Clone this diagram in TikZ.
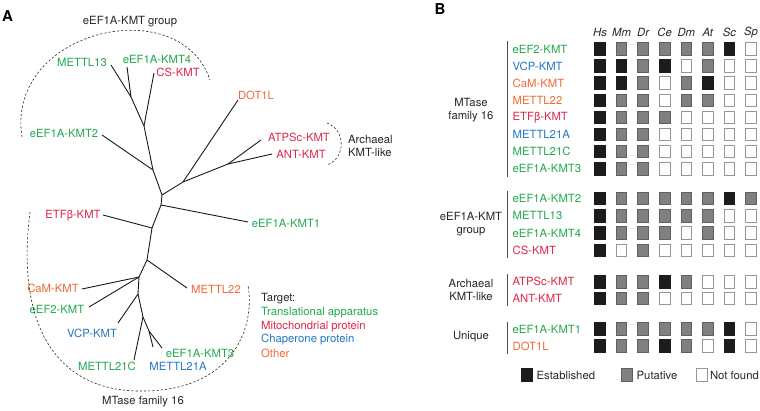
\documentclass[tikz,border=0pt]{standalone}
\usepackage{fontspec}
\setmainfont{TeX Gyre Heros}
\begin{document}
\begin{tikzpicture}[x=1pt,y=-1pt,
  every node/.style={font=\fontsize{11.3}{13}\selectfont, inner sep=0pt},
  tline/.style={line width=0.9pt, black!90},
  grp/.style={dashed, dash pattern=on 2.2pt off 2pt, line width=0.6pt, black!85},
  lab/.style={text=black!85},
  panel/.style={font=\fontsize{15}{16}\selectfont\bfseries},
  sqbox/.style={minimum width=10.6pt, minimum height=12.6pt, line width=0.9pt, inner sep=0pt},
  bar/.style={line width=0.7pt, black!70}]
\definecolor{tg}{RGB}{34,168,78}
\definecolor{tr}{RGB}{222,38,74}
\definecolor{tb}{RGB}{38,118,196}
\definecolor{to}{RGB}{242,104,52}
\definecolor{cE}{RGB}{28,28,28}
\definecolor{bE}{RGB}{28,28,28}
\definecolor{cP}{RGB}{128,128,128}
\definecolor{bP}{RGB}{95,95,95}
\definecolor{cN}{RGB}{255,255,255}
\definecolor{bN}{RGB}{150,150,150}
\useasboundingbox (0,0) rectangle (760,410);

% ---------- Panel A ----------
\node[panel] (A) at (7.5,16) {A};
\node[panel] (B) at (440,9) {B};

% tree coordinates
\coordinate (t13) at (111,65);
\coordinate (t4) at (127,67);
\coordinate (tcs) at (154,73);
\coordinate (n1) at (131,97);
\coordinate (n2) at (144,126);
\coordinate (t2) at (102,135);
\coordinate (n3) at (153,170);
\coordinate (n4) at (162,195);
\coordinate (r1) at (183,182);
\coordinate (tdot) at (238,100);
\coordinate (r2) at (228,164);
\coordinate (tatp) at (261,140);
\coordinate (tant) at (272,154);
\coordinate (n5) at (161,205);
\coordinate (tk1) at (248,222);
\coordinate (n6) at (152,228);
\coordinate (tetf) at (103,215);
\coordinate (n7) at (147,260);
\coordinate (t22) at (187,288);
\coordinate (n8) at (139,277);
\coordinate (tcam) at (82,289);
\coordinate (tef2) at (89,307);
\coordinate (n9) at (138,294);
\coordinate (tvcp) at (118,323);
\coordinate (n10) at (143,317);
\coordinate (t21c) at (134,360);
\coordinate (n11) at (149,331);
\coordinate (t21a) at (153,347);
\coordinate (tk3) at (162,348);

\draw[tline] (t13) -- (n1) -- (n2) -- (n3) -- (n4) -- (n5) -- (n6) -- (n7) -- (n8) -- (n9) -- (n10) -- (t21c);
\draw[tline] (t4) -- (n1);
\draw[tline] (tcs) -- (n2);
\draw[tline] (t2) -- (n3);
\draw[tline] (n4) -- (r1) -- (r2) -- (tatp);
\draw[tline] (r1) -- (tdot);
\draw[tline] (r2) -- (tant);
\draw[tline] (n5) -- (tk1);
\draw[tline] (tetf) -- (n6);
\draw[tline] (n7) -- (t22);
\draw[tline] (tcam) -- (n8);
\draw[tline] (tef2) -- (n8);
\draw[tline] (tvcp) -- (n9);
\draw[tline] (n10) -- (n11) -- (t21a);
\draw[tline] (n11) -- (tk3);

% tree labels
\node[text=tg] (aM13) at (82,62) {METTL13};
\node[text=tg] (aK4) at (157,59) {eEF1A-KMT4};
\node[text=tr] (aCS) at (178,72) {CS-KMT};
\node[text=to] (aDOT) at (256,95) {DOT1L};
\node[text=tg] (aK2) at (64,133) {eEF1A-KMT2};
\node[text=tr] (aATP) at (299,137) {ATPSc-KMT};
\node[text=tr] (aANT) at (301,154) {ANT-KMT};
\node[text=tr] (aETF) at (73,216) {ETFβ-KMT};
\node[text=tg] (aK1) at (286,223) {eEF1A-KMT1};
\node[text=to] (aCaM) at (53,288) {CaM-KMT};
\node[text=to] (aM22) at (216,289) {METTL22};
\node[text=tg] (aEF2) at (57,309) {eEF2-KMT};
\node[text=tb] (aVCP) at (92,333) {VCP-KMT};
\node[text=tg] (aK3) at (200,353) {eEF1A-KMT3};
\node[text=tg] (aM21C) at (107,366) {METTL21C};
\node[text=tb] (aM21A) at (178,366) {METTL21A};

% group outlines
\coordinate (g1a) at (22,137);
\coordinate (g1b) at (210,80);
\draw[grp] (g1a) .. controls (5,30) and (180,-10) .. (g1b);
\node[lab] (g1) at (130,22) {eEF1A-KMT group};
\coordinate (g2a) at (327,123);
\coordinate (g2b) at (327,165);
\draw[grp] (g2a) .. controls (346,130) and (346,158) .. (g2b);
\node[lab, align=left, anchor=west] (g2) at (348,145.5) {Archaeal\\KMT-like};
\coordinate (g3a) at (30,212);
\coordinate (g3m) at (140,391);
\coordinate (g3b) at (248,285);
\draw[grp] (g3a) .. controls (15,330) and (60,391) .. (g3m) .. controls (230,392) and (256,330) .. (g3b);
\node[lab] (g3) at (143,402) {MTase family 16};

% target legend
\node[lab, anchor=west] (tt) at (261,299) {Target:};
\node[text=tg, anchor=west] (t1) at (261,313) {Translational apparatus};
\node[text=tr, anchor=west] (tt2) at (261,326.5) {Mitochondrial protein};
\node[text=tb, anchor=west] (tt3) at (261,340) {Chaperone protein};
\node[text=to, anchor=west] (tt4) at (261,353.5) {Other};

% ---------- Panel B ----------
\foreach \h [count=\i] in {Hs,Mm,Dr,Ce,Dm,At,Sc,Sp}
  \node[font=\fontsize{11.3}{13}\selectfont\itshape, text=black!85] (h\i) at ({600+21.57*(\i-1)},32) {\h};

\foreach \nm/\cl/\y/\st [count=\r] in {
  eEF2-KMT/tg/49/{E,P,P,P,P,P,E,N},
  VCP-KMT/tb/66.1/{E,E,P,E,N,P,N,N},
  CaM-KMT/to/83.2/{E,E,P,N,P,E,N,N},
  METTL22/to/100.3/{E,P,P,N,P,P,N,N},
  ETFβ-KMT/tr/117.4/{E,P,P,P,N,N,N,N},
  METTL21A/tb/134.5/{E,P,P,N,N,N,N,N},
  METTL21C/tg/151.6/{E,P,P,N,N,N,N,N},
  eEF1A-KMT3/tg/168.7/{E,P,P,N,N,N,N,N},
  eEF1A-KMT2/tg/198.5/{E,P,P,P,P,P,E,P},
  METTL13/tg/215.8/{E,P,P,P,P,P,N,N},
  eEF1A-KMT4/tg/233.1/{E,P,P,P,N,P,N,N},
  CS-KMT/tr/250.4/{E,N,P,N,N,N,N,N},
  ATPSc-KMT/tr/281.8/{E,P,P,E,P,N,N,N},
  ANT-KMT/tr/298.6/{E,P,P,N,N,N,N,N},
  eEF1A-KMT1/tg/329/{E,P,P,P,P,P,E,N},
  DOT1L/to/346/{E,P,P,E,P,N,E,N}} {
  \node[text=\cl, anchor=west] (rl\r) at (512.5,\y) {\nm};
  \foreach \s [count=\i] in \st
    \node[sqbox, fill=c\s, draw=b\s] (sq\r-\i) at ({600+21.57*(\i-1)},\y) {};
}

% group bars and labels
\coordinate (b1a) at (507,41); \coordinate (b1b) at (507,176.5);
\coordinate (b2a) at (507,191); \coordinate (b2b) at (507,258);
\coordinate (b3a) at (507,274); \coordinate (b3b) at (507,306);
\coordinate (b4a) at (507,321.5); \coordinate (b4b) at (507,354);
\draw[bar] (b1a) -- (b1b);
\draw[bar] (b2a) -- (b2b);
\draw[bar] (b3a) -- (b3b);
\draw[bar] (b4a) -- (b4b);
\node[lab, align=center] (G1) at (471,110) {MTase\\family 16};
\node[lab, align=center] (G2) at (471,224.5) {eEF1A-KMT\\group};
\node[lab, align=center] (G3) at (471,289.5) {Archaeal\\KMT-like};
\node[lab] (G4) at (471,337) {Unique};

% legend
\node[sqbox, fill=cE, draw=bE] (LE) at (527,375) {};
\node[lab, anchor=west] (LEt) at (536.5,375) {Established};
\node[sqbox, fill=cP, draw=bP] (LP) at (627,375) {};
\node[lab, anchor=west] (LPt) at (636.5,375) {Putative};
\node[sqbox, fill=cN, draw=bN] (LN) at (702,375) {};
\node[lab, anchor=east] (LNt) at (759,375) {Not found};
\end{tikzpicture}
\end{document}
